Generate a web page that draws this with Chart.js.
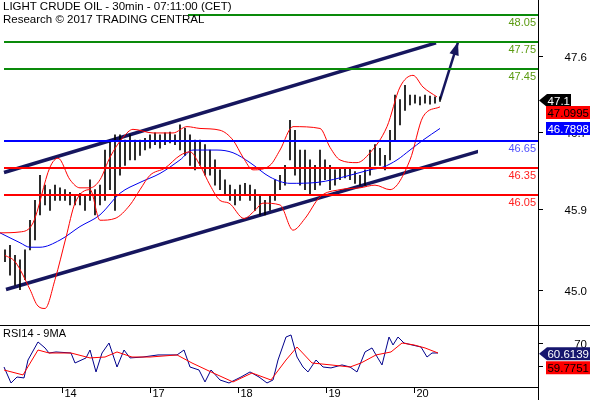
<!DOCTYPE html>
<html>
<head>
<meta charset="utf-8">
<script src="https://cdn.jsdelivr.net/npm/chart.js@4"></script>
<style>
  body { margin: 0; background: #fff; }
  #wrap { position: relative; width: 590px; height: 400px; font-family: "Liberation Sans", Arial, sans-serif; }
  #main { position: absolute; left: 0; top: 0; width: 590px; height: 326px; }
  #rsi { position: absolute; left: 0; top: 326px; width: 590px; height: 74px; }
  .t { position: absolute; left: 3px; font-size: 11.5px; color: #000; }
</style>
</head>
<body>
<div id="wrap">
  <canvas id="main" width="590" height="326"></canvas>
  <canvas id="rsi" width="590" height="74"></canvas>
  <div class="t" style="top:0px">LIGHT CRUDE OIL - 30min - 07:11:00 (CET)</div>
  <div class="t" style="top:13px">Research © 2017 TRADING CENTRAL</div>
  <div class="t" style="top:327px;font-size:11px">RSI14 - 9MA</div>
</div>
<script>
'use strict';

// bar index (one step = 5 px on the original), 30min bars bunched
let barIdx = [];
for (let i = 1; i <= 88; i++) barIdx.push(i);

let highs = [45.44,45.49,45.38,45.33,45.44,45.77,45.99,46.27,46.16,46.11,46.16,46.13,46.11,46.08,46.05,46.07,46.05,46.22,46.11,46.16,
  46.55,46.66,46.72,46.72,46.66,46.72,46.66,46.66,46.68,46.72,46.74,46.72,46.74,46.75,46.72,46.83,46.79,46.72,46.66,46.66,
  46.61,46.55,46.44,46.33,46.22,46.16,46.11,46.16,46.18,46.16,46.11,46.05,45.99,46.05,46.22,46.27,46.38,46.88,46.77,46.55,
  46.55,46.44,46.38,46.55,46.44,46.38,46.33,46.35,46.35,46.35,46.31,46.27,46.33,46.55,46.61,46.57,46.49,46.77,47.16,47.11,
  47.27,47.16,47.16,47.14,47.16,47.15,47.14,47.14];
let lows = [45.31,45.16,45.05,45.00,45.11,45.44,45.55,45.83,45.94,45.88,45.99,45.99,45.99,45.94,45.94,45.94,45.88,45.99,45.83,45.94,
  45.99,46.11,45.88,46.27,46.38,46.44,46.44,46.49,46.55,46.57,46.61,46.57,46.61,46.63,46.61,46.55,46.49,46.38,46.33,46.38,
  46.27,46.27,46.16,46.11,46.05,45.99,45.94,45.99,46.05,45.99,45.88,45.83,45.83,45.88,45.99,46.11,46.16,46.44,46.27,46.16,
  46.11,46.05,46.11,46.16,46.22,46.11,46.16,46.22,46.24,46.22,46.18,46.16,46.16,46.27,46.38,46.38,46.33,46.44,46.66,46.83,
  46.99,47.05,47.07,47.05,47.07,47.06,47.07,47.09];

// bollinger bands [index, price]
let upperBand = [[0,45.63],[4,45.64],[6.6,45.74],[10,46.36],[11.6,46.46],[14,46.22],[16,46.13],[18,46.13],[20,46.22],[22,46.47],
  [24.6,46.69],[26.6,46.78],[30.6,46.74],[34.6,46.74],[37.4,46.81],[40,46.79],[44,46.77],[46.6,46.66],[48.6,46.47],[50.6,46.33],
  [54,46.38],[56,46.55],[58.6,46.81],[64,46.79],[66,46.58],[68,46.44],[71.4,46.41],[74,46.52],[77.4,46.81],[80,47.25],
  [82.6,47.38],[84.6,47.25],[87.4,47.14]];
let lowerBand = [[1,45.38],[3,45.31],[6,45.0],[7.4,44.83],[9,44.79],[11,45.11],[13.2,45.58],[15,45.96],[18,46.11],[20,45.77],
  [23,45.79],[26,45.94],[28,46.11],[30,46.27],[33,46.35],[36,46.49],[38,46.53],[40,46.38],[42,46.16],[44,45.99],
  [45.8,45.96],[48.8,45.79],[51,45.88],[52.6,45.96],[56,45.94],[58.6,45.66],[61,45.79],[64,46.03],[68,46.11],[72,46.13],
  [75,46.16],[78,46.11],[82,46.44],[84.6,46.92],[88,47.03]];
let midBand = [[0,45.63],[4,45.52],[6,45.47],[8,45.47],[12,45.55],[16,45.70],[20,45.83],[24,46.07],[28,46.19],[32,46.29],
  [36,46.44],[38.6,46.55],[43.4,46.55],[46.6,46.52],[50,46.41],[54,46.25],[58,46.18],[63.4,46.19],[70,46.27],[74,46.33],
  [76.6,46.36],[79.4,46.44],[82,46.55],[84.6,46.66],[88,46.79]];

// channel, projection, levels
let channelTop = [[0.8,46.30],[87.2,47.74]];
let channelBottom = [[1.2,45.00],[96.6,46.55]];
let projection = [[88,47.11],[91.6,47.75]];
let greenLevels = [48.05,47.75,47.45];
let blueLevels = [46.65];
let redLevels = [46.35,46.05];

// axis ticks
let priceTicks = [45.0,45.9,46.75,47.6];
let priceTickLabels = ['45.0','45.9','46.7','47.6'];
let dayTicks = [12.4,30,47.6,65.2,82.8];
let dayLabels = ['14','17','18','19','20'];

// RSI
let rsiLine = [[0.8,49.1],[2.2,35.2],[3.4,40.4],[4.8,39.6],[5.6,55.2],[7.6,70.9],[9,65.7],[9.8,61.3],[11.2,62.2],[14.2,61.3],
  [15,52.6],[17.2,57.0],[18,63.9],[19.2,44.8],[20.4,61.3],[21.8,70],[23.4,49.1],[24.8,63.9],[26,57.0],[28.6,57.8],
  [31.6,59.6],[35.4,59.6],[36.8,63.9],[38,49.1],[39.8,46.5],[41,36.1],[42.2,46.5],[44,37.8],[45.8,35.2],[48.2,40.4],
  [50,44.8],[51.8,40.4],[53.4,35.2],[54.6,37.8],[55.6,55.2],[57.2,75.2],[58.2,77.0],[59.4,57.8],[60.6,49.1],[61.6,44.8],
  [63.2,55.2],[64.6,49.1],[66.2,48.3],[68.4,50.9],[70,49.1],[71.4,44.8],[73,62.2],[74.4,65.7],[75.2,59.6],[76.4,50.9],
  [77.8,75.2],[78.6,68.3],[79.6,75.2],[80.8,70],[82.4,68.3],[84.2,66.5],[85.4,57.8],[86.4,61.3],[87.6,61.3]];
let rsiMa = [[0.8,46.5],[4.6,42.2],[7.6,63.9],[9.8,61.3],[14.2,61.3],[18,57.0],[21,57.8],[23.4,62.2],[26.4,57.8],[30,57.8],
  [35.4,59.6],[38.4,52.6],[42.2,44.8],[46.6,36.1],[50.4,43.9],[54.2,37.8],[57.2,55.2],[59.4,66.5],[62.4,52.6],[66.2,50.9],
  [70,49.1],[72.2,52.6],[75.2,59.6],[78.2,62.2],[80.4,70],[82.8,68.3],[85,65.7],[87.6,61.3]];
let rsiTicks = [50,70];

const NAVY = '#16165e';
const FONT = '"Liberation Sans", Arial';
const xMax = 107.6;
const pts = a => a.map(p => ({x: p[0], y: p[1]}));
const hline = (v, from) => [{x: from, y: v}, {x: xMax, y: v}];

function lineDs(data, color, width, extra) {
  return Object.assign({type: 'line', data: data, borderColor: color, borderWidth: width,
    pointRadius: 0, tension: 0, fill: false}, extra || {});
}

let datasets = [];
greenLevels.forEach((v, i) => datasets.push(lineDs(hline(v, i === 0 ? 37.6 : 0.8), '#0a8a0a', 2)));
blueLevels.forEach(v => datasets.push(lineDs(hline(v, 0.8), '#0000ff', 2)));
redLevels.forEach(v => datasets.push(lineDs(hline(v, 0.8), '#ff0000', 2)));
datasets.push(lineDs(pts(upperBand), '#ff0000', 1, {cubicInterpolationMode: 'monotone'}));
datasets.push(lineDs(pts(lowerBand), '#ff0000', 1, {cubicInterpolationMode: 'monotone'}));
datasets.push(lineDs(pts(midBand), '#0000ee', 1, {cubicInterpolationMode: 'monotone'}));
datasets.push({type: 'bar', data: barIdx.map((x, i) => ({x: x, y: [lows[i], highs[i]]})),
  backgroundColor: '#000', barThickness: 1, grouped: false});
datasets.push(lineDs(pts(channelTop), NAVY, 3.5));
datasets.push(lineDs(pts(channelBottom), NAVY, 3.5, {clip: {left: 0, top: 0, right: -60, bottom: 0}}));
datasets.push(lineDs(pts(projection), NAVY, 2.5, {clip: false}));

function box(ctx, x, y, w, h, bg, fg, txt, arrow) {
  ctx.fillStyle = bg;
  ctx.beginPath();
  if (arrow) {
    ctx.moveTo(x - 8, y);
    ctx.lineTo(x, y - h / 2);
    ctx.lineTo(x + w, y - h / 2);
    ctx.lineTo(x + w, y + h / 2);
    ctx.lineTo(x, y + h / 2);
  } else {
    ctx.rect(x, y - h / 2, w, h);
  }
  ctx.closePath();
  ctx.fill();
  ctx.fillStyle = fg;
  ctx.textAlign = 'right';
  ctx.textBaseline = 'middle';
  ctx.fillText(txt, x + w - 1, y + 1);
}

// right axis tick marks + labels, drawn by hand so the scale keeps no padding
function rightAxis(ctx, a, ys, ticks, labels) {
  ctx.strokeStyle = '#000';
  ctx.fillStyle = '#000';
  ctx.font = '11.5px ' + FONT;
  ctx.textAlign = 'right';
  ctx.textBaseline = 'middle';
  ticks.forEach((v, i) => {
    const y = Math.round(ys.getPixelForValue(v)) + 0.5;
    ctx.beginPath();
    ctx.moveTo(a.right, y);
    ctx.lineTo(a.right + 5, y);
    ctx.stroke();
    if (labels[i]) ctx.fillText(labels[i], 587, y + 1);
  });
}

const mainDecor = {
  id: 'mainDecor',
  afterDatasetsDraw(chart) {
    const ctx = chart.ctx, xs = chart.scales.x, ys = chart.scales.y, a = chart.chartArea;
    ctx.save();
    const x1 = xs.getPixelForValue(projection[0][0]), y1 = ys.getPixelForValue(projection[0][1]);
    const x2 = xs.getPixelForValue(projection[1][0]), y2 = ys.getPixelForValue(projection[1][1]);
    const ang = Math.atan2(y2 - y1, x2 - x1);
    ctx.fillStyle = NAVY;
    ctx.beginPath();
    ctx.moveTo(x2, y2);
    ctx.lineTo(x2 - 14 * Math.cos(ang - 0.35), y2 - 14 * Math.sin(ang - 0.35));
    ctx.lineTo(x2 - 14 * Math.cos(ang + 0.35), y2 - 14 * Math.sin(ang + 0.35));
    ctx.closePath();
    ctx.fill();
    ctx.font = '11px ' + FONT;
    ctx.textAlign = 'right';
    ctx.textBaseline = 'top';
    const lab = (v, c) => { ctx.fillStyle = c; ctx.fillText(v.toFixed(2), a.right - 2, ys.getPixelForValue(v) + 2); };
    greenLevels.forEach(v => lab(v, '#5a9a10'));
    blueLevels.forEach(v => lab(v, '#5050ff'));
    redLevels.forEach(v => lab(v, '#ff2020'));
    ctx.strokeStyle = '#000';
    ctx.lineWidth = 1;
    ctx.beginPath();
    ctx.moveTo(a.right + 0.5, 0);
    ctx.lineTo(a.right + 0.5, a.bottom);
    ctx.moveTo(0, a.bottom - 0.5);
    ctx.lineTo(chart.width, a.bottom - 0.5);
    ctx.stroke();
    rightAxis(ctx, a, ys, priceTicks, priceTickLabels);
    ctx.font = '11.5px ' + FONT;
    box(ctx, a.right + 9, ys.getPixelForValue(47.1), 24, 13, '#000', '#fff', '47.1', true);
    box(ctx, a.right + 8, ys.getPixelForValue(47.0995) + 12, 44, 13, '#ff0000', '#000', '47.0995', false);
    box(ctx, a.right + 8, ys.getPixelForValue(46.7898), 44, 13, '#0000ff', '#fff', '46.7898', false);
    ctx.restore();
  }
};

const yHidden = (min, max) => ({
  position: 'right', min: min, max: max,
  afterFit: s => { s.width = 52; s.paddingTop = 0; s.paddingBottom = 0; },
  ticks: {display: false}, grid: {display: false}, border: {display: false}
});

new Chart(document.getElementById('main'), {
  data: {datasets: datasets},
  options: {
    responsive: false, maintainAspectRatio: false, animation: false, events: [],
    layout: {padding: 0},
    plugins: {legend: {display: false}, tooltip: {enabled: false}},
    scales: {
      x: {type: 'linear', min: 0, max: xMax, display: false, offset: false},
      y: yHidden(44.595, 48.217)
    }
  },
  plugins: [mainDecor]
});

const rsiDecor = {
  id: 'rsiDecor',
  afterDatasetsDraw(chart) {
    const ctx = chart.ctx, xs = chart.scales.x, ys = chart.scales.y, a = chart.chartArea;
    ctx.save();
    ctx.strokeStyle = '#000';
    ctx.lineWidth = 1;
    ctx.beginPath();
    ctx.moveTo(a.right + 0.5, 0);
    ctx.lineTo(a.right + 0.5, chart.height);
    ctx.moveTo(0, a.bottom + 0.5);
    ctx.lineTo(a.right, a.bottom + 0.5);
    ctx.stroke();
    rightAxis(ctx, a, ys, rsiTicks, ['', '70']);
    // day ticks
    ctx.font = '11px ' + FONT;
    ctx.textAlign = 'left';
    ctx.textBaseline = 'top';
    dayTicks.forEach((v, i) => {
      const x = Math.round(xs.getPixelForValue(v)) + 0.5;
      ctx.beginPath();
      ctx.moveTo(x, a.bottom);
      ctx.lineTo(x, a.bottom + 6);
      ctx.stroke();
      ctx.fillText(dayLabels[i], x + 2, a.bottom + 1);
    });
    ctx.font = '11.5px ' + FONT;
    box(ctx, a.right + 9, ys.getPixelForValue(60.6139), 43, 13, '#16166e', '#fff', '60.6139', true);
    box(ctx, a.right + 8, ys.getPixelForValue(59.7751) + 13, 44, 13, '#ff0000', '#000', '59.7751', false);
    ctx.restore();
  }
};

new Chart(document.getElementById('rsi'), {
  data: {datasets: [
    lineDs(pts(rsiMa), '#ff0000', 1),
    lineDs(pts(rsiLine), '#00008b', 1)
  ]},
  options: {
    responsive: false, maintainAspectRatio: false, animation: false, events: [],
    layout: {padding: {bottom: 13}},
    plugins: {legend: {display: false}, tooltip: {enabled: false}},
    scales: {
      x: {type: 'linear', min: 0, max: xMax, display: false},
      y: yHidden(31.7, 84.8)
    }
  },
  plugins: [rsiDecor]
});
</script>
</body>
</html>
